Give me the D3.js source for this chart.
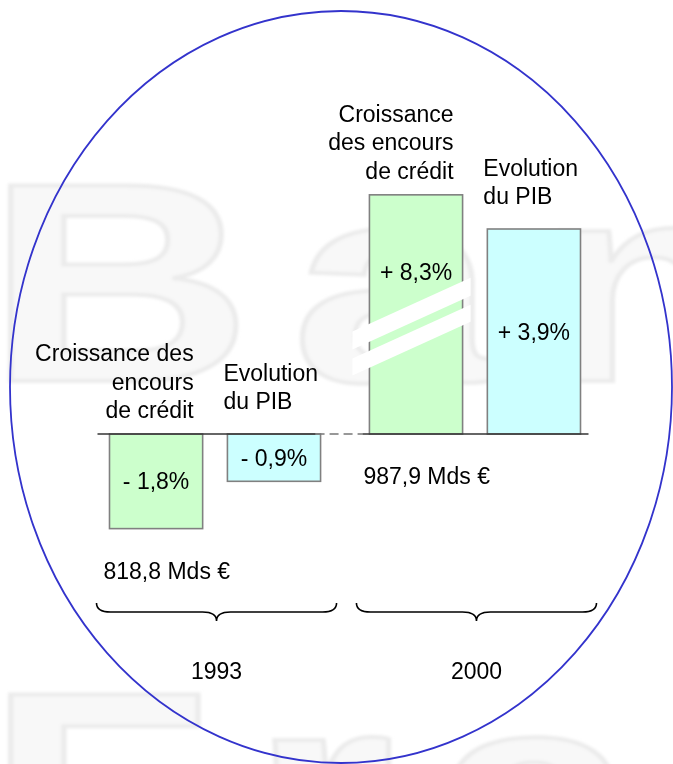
<!DOCTYPE html>
<html>
<head>
<meta charset="utf-8">
<script src="https://cdn.jsdelivr.net/npm/d3@7"></script>
<style>
  body { margin: 0; background: #fff; }
  svg text { font-family: "Liberation Sans", Arial, sans-serif; fill: #000; }
</style>
</head>
<body>
<svg width="673" height="764"></svg>
<script>
// data
var years = ['1993', '2000'];
var series = ['credit', 'pib'];
var creditGrowth = [-1.8, 8.3];
var gdpGrowth = [-0.9, 3.9];
var outstandingCredit = [818.8, 987.9];
var creditLabel = [['Croissance des', 'encours', 'de crédit'], ['Croissance', 'des encours', 'de crédit']];
var gdpLabel = [['Evolution', 'du PIB'], ['Evolution', 'du PIB']];

var svg = d3.select('svg');

var fillColor = { credit: '#ccffcc', pib: '#ccffff' };

// rows for the bars
var rows = [];
years.forEach(function (yr, i) {
  rows.push({ year: yr, key: 'credit', value: creditGrowth[i], lines: creditLabel[i] });
  rows.push({ year: yr, key: 'pib', value: gdpGrowth[i], lines: gdpLabel[i] });
});

var x0 = d3.scaleBand().domain(years).range([109.5, 580.5]).paddingInner(0.188);
var x1 = d3.scaleBand().domain(series).range([0, x0.bandwidth()]).paddingInner(0.21);
var y = d3.scaleLinear().domain([0, 3.9]).range([434, 229]);

// the tallest bar is cut, it is drawn only up to this value
var breakCap = 4.55;
var breakAt = 2.1;

function fmtPct(v) {
  return (v < 0 ? '- ' : '+ ') + Math.abs(v).toFixed(1).replace('.', ',') + '%';
}
function fmtMds(v) {
  return v.toFixed(1).replace('.', ',') + ' Mds €';
}

// faint watermark behind
var defs = svg.append('defs');
defs.append('filter').attr('id', 'soft').append('feGaussianBlur').attr('stdDeviation', 1.8);
var wm = svg.append('g').attr('filter', 'url(#soft)');
['Ban', 'Fra'].forEach(function (w, i) {
  wm.append('text').attr('transform', 'translate(-14,' + (381 + i * 509) + ') scale(1.3,1)')
    .attr('font-size', 284).attr('font-weight', 'bold').attr('letter-spacing', 30)
    .style('fill', '#f8f8f8').style('stroke', '#ebebeb').style('stroke-width', 4)
    .text(w);
});

// ellipse
svg.append('ellipse').attr('cx', 341).attr('cy', 387).attr('rx', 331).attr('ry', 376)
  .attr('fill', 'none').attr('stroke', '#3333cc').attr('stroke-width', 1.8);

// bars
var g = svg.append('g');
function bx(d) { return x0(d.year) + x1(d.key); }
function topVal(d) { return Math.min(d.value, breakCap); }

g.selectAll('rect.bar').data(rows).enter().append('rect')
  .attr('class', 'bar')
  .attr('x', bx)
  .attr('y', function (d) { return y(Math.max(0, topVal(d))); })
  .attr('width', x1.bandwidth())
  .attr('height', function (d) { return Math.abs(y(topVal(d)) - y(0)); })
  .attr('fill', function (d) { return fillColor[d.key]; })
  .attr('stroke', '#808080').attr('stroke-width', 1.6);

// break marks on the cut bar
rows.filter(function (d) { return d.value > breakCap; }).forEach(function (d) {
  var xl = bx(d), xr = xl + x1.bandwidth();
  var xc = (xl + xr) / 2, yc = y(breakAt), slope = -0.455;
  function cy(x) { return yc + slope * (x - xc); }
  var a = xl - 17, b = xr + 8;
  [[-21, -3], [6, 23]].forEach(function (o) {
    var pts = [[a, cy(a) + o[0]], [b, cy(b) + o[0]], [b, cy(b) + o[1]], [a, cy(a) + o[1]]];
    g.append('polygon').attr('points', pts.map(function (p) { return p.join(','); }).join(' '))
      .attr('fill', '#fff');
  });
});

// zero line
var lineL = x0(years[0]) - 12;
var lineM1 = x0(years[0]) + x0.bandwidth() - 5;
var lineM2 = x0(years[1]) - 7;
var lineR = x0(years[1]) + x0.bandwidth() + 8;
g.append('line').attr('x1', lineL).attr('x2', lineM1).attr('y1', y(0)).attr('y2', y(0))
  .attr('stroke', '#333').attr('stroke-width', 1.5);
g.append('line').attr('x1', lineM1).attr('x2', lineM2).attr('y1', y(0)).attr('y2', y(0))
  .attr('stroke', '#777').attr('stroke-width', 1.5).attr('stroke-dasharray', '9,5');
g.append('line').attr('x1', lineM2).attr('x2', lineR).attr('y1', y(0)).attr('y2', y(0))
  .attr('stroke', '#333').attr('stroke-width', 1.5);

// value labels inside bars
g.selectAll('text.val').data(rows).enter().append('text')
  .attr('class', 'val')
  .attr('x', function (d) { return bx(d) + x1.bandwidth() / 2; })
  .attr('y', function (d) {
    if (d.value > breakCap) return y(breakCap) + 85;
    return (y(0) + y(d.value)) / 2 + 8;
  })
  .attr('text-anchor', 'middle').attr('font-size', 23)
  .text(function (d) { return fmtPct(d.value); });

// category labels above bars
rows.forEach(function (d) {
  var top = y(Math.max(0, topVal(d)));
  var gap = d.key === 'credit' ? 16 : 25;
  var lh = 28.5;
  var n = d.lines.length;
  var t = g.append('text').attr('font-size', 23)
    .attr('text-anchor', d.key === 'credit' ? 'end' : 'start');
  var tx = d.key === 'credit' ? bx(d) + x1.bandwidth() - 9 : bx(d) - 4;
  d.lines.forEach(function (ln, k) {
    t.append('tspan').attr('x', tx).attr('y', top - gap - (n - 1 - k) * lh).text(ln);
  });
});

// outstanding amounts
years.forEach(function (yr, i) {
  var low = Math.min(0, creditGrowth[i], gdpGrowth[i]);
  g.append('text').attr('x', x0(yr) - 6).attr('y', y(low) + 50)
    .attr('font-size', 23).text(fmtMds(outstandingCredit[i]));
});

// braces and years
var braceTop = 603, braceMid = 612, braceTip = 621;
years.forEach(function (yr) {
  var l = x0(yr) - 13, r = x0(yr) + x0.bandwidth() + 16, m = (l + r) / 2;
  var p = d3.path();
  p.moveTo(l, braceTop);
  p.quadraticCurveTo(l, braceMid, l + 14, braceMid);
  p.lineTo(m - 14, braceMid);
  p.quadraticCurveTo(m, braceMid, m, braceTip);
  p.quadraticCurveTo(m, braceMid, m + 14, braceMid);
  p.lineTo(r - 14, braceMid);
  p.quadraticCurveTo(r, braceMid, r, braceTop);
  g.append('path').attr('d', p.toString()).attr('fill', 'none')
    .attr('stroke', '#000').attr('stroke-width', 1.6);
  g.append('text').attr('x', m).attr('y', 679).attr('text-anchor', 'middle')
    .attr('font-size', 23).text(yr);
});
</script>
</body>
</html>
